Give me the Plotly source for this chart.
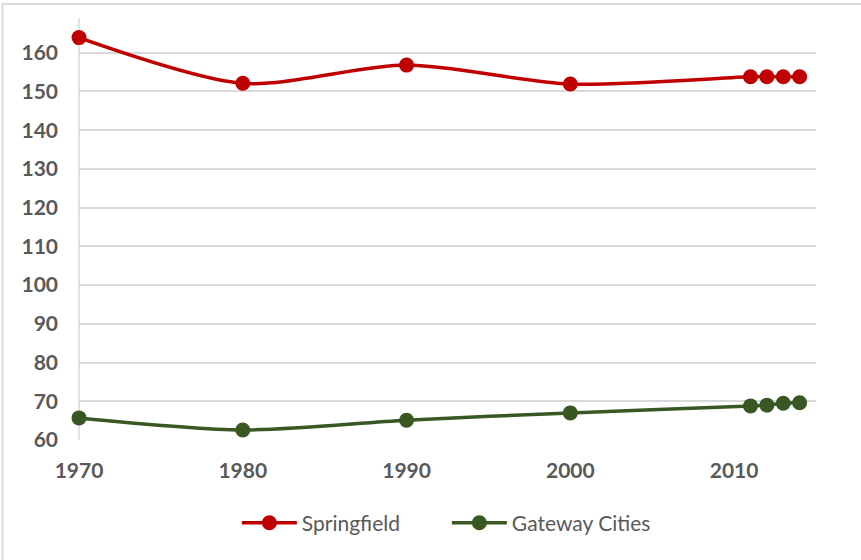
import plotly.graph_objects as go

years = [1970, 1980, 1990, 2000, 2011, 2012, 2013, 2014]
springfield = [163.9, 152.1, 156.8, 151.9, 153.8, 153.8, 153.8, 153.8]
gateway = [65.7, 62.6, 65.1, 67.0, 68.8, 69.0, 69.5, 69.6]
x_ticks = [1970, 1980, 1990, 2000, 2010]
y_ticks = [60, 70, 80, 90, 100, 110, 120, 130, 140, 150, 160]

RED = "#C00000"
GREEN = "#385723"
GRAY = "#595959"
GRID = "#D9D9D9"

fig = go.Figure()
fig.add_trace(go.Scatter(
    x=years, y=springfield, name="Springfield", mode="lines+markers",
    line=dict(color=RED, width=3.5, shape="spline", smoothing=0.8),
    marker=dict(color=RED, size=15), cliponaxis=False))
fig.add_trace(go.Scatter(
    x=years, y=gateway, name="Gateway Cities", mode="lines+markers",
    line=dict(color=GREEN, width=3.5, shape="spline", smoothing=0.8),
    marker=dict(color=GREEN, size=15), cliponaxis=False))

top = 18
ymax = 60 + (440 - top) / 3.873
pw = 861 - 79 - 45
ph = 440 - top

fig.update_layout(
    width=861, height=560,
    margin=dict(l=79, r=45, t=top, b=120),
    paper_bgcolor="white", plot_bgcolor="white",
    font=dict(family="Lato", color=GRAY),
    showlegend=True,
    legend=dict(orientation="h", xref="container", yref="container",
                x=0.519, y=0.066, xanchor="center", yanchor="middle",
                font=dict(size=21, color=GRAY, family="Lato"),
                itemwidth=55, tracegroupgap=0,
                entrywidth=140, entrywidthmode="pixels"),
    xaxis=dict(range=[1970, 2015], tickvals=x_ticks,
               ticktext=[str(v) for v in x_ticks],
               showgrid=False, zeroline=False, showline=False,
               ticks="", ticklabelstandoff=16,
               tickfont=dict(size=21, color=GRAY, family="Lato", weight="bold")),
    yaxis=dict(range=[60, ymax], tickvals=y_ticks,
               showgrid=True, gridcolor=GRID, gridwidth=1.5,
               zeroline=False, showline=False,
               ticks="", ticklabelstandoff=20,
               tickfont=dict(size=21, color=GRAY, family="Lato", weight="bold")),
    shapes=[dict(type="rect", xref="paper", yref="paper",
                 x0=(2.5 - 79) / pw, x1=(870 - 79) / pw,
                 y0=(440 - 570) / ph, y1=(440 - 4) / ph,
                 line=dict(color=GRID, width=2), layer="below"),
            dict(type="line", xref="paper", yref="paper",
                 x0=0, x1=0, y0=0, y1=1,
                 line=dict(color=GRID, width=1.5), layer="below")],
)

fig.write_html("out.html", post_script="document.body.style.margin='0';",
               config={"displayModeBar": False})
